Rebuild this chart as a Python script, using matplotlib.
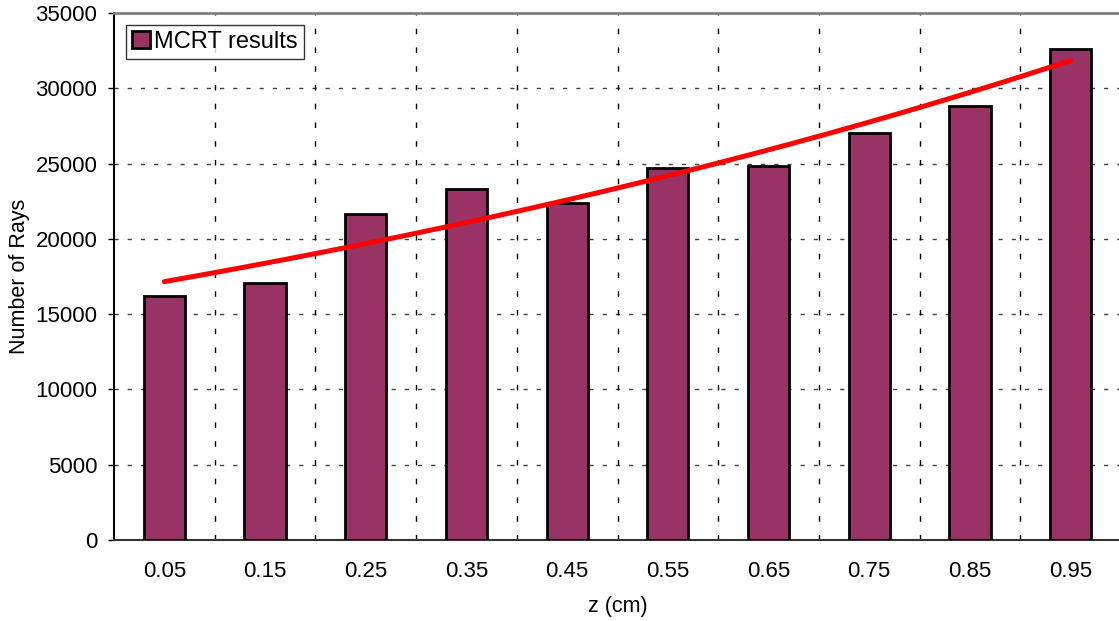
import numpy as np
import matplotlib
matplotlib.use("Agg")
import matplotlib.pyplot as plt

plt.rcParams['font.family'] = ['Liberation Sans', 'DejaVu Sans']

# Ray counts per depth slice
z_labels = ["0.05", "0.15", "0.25", "0.35", "0.45", "0.55", "0.65", "0.75", "0.85", "0.95"]
z_values = [0.05, 0.15, 0.25, 0.35, 0.45, 0.55, 0.65, 0.75, 0.85, 0.95]
ray_counts = [16200, 17100, 21650, 23300, 22400, 24700, 24850, 27000, 28800, 32600]

W, H = 1119, 621
fig = plt.figure(figsize=(W / 100, H / 100), dpi=100)
ax = fig.add_axes([114 / W, 1 - 540 / H, 1007 / W, 527 / H])

x = np.arange(len(z_labels))
ax.bar(x, ray_counts, width=0.41, color="#993366", edgecolor="black",
       linewidth=2, label="MCRT results", zorder=3)

# Exponential trend line fitted to the ray counts
k, logc = np.polyfit(z_values, np.log(ray_counts), 1)
zz = np.linspace(z_values[0], z_values[-1], 200)
xx = np.interp(zz, z_values, x)
ax.plot(xx, np.exp(logc + k * zz), color="#ff0000", linewidth=3.6,
        solid_capstyle="round", zorder=4, label="_nolegend_")

ax.set_xlim(-0.5, len(z_labels) - 0.5)
ax.set_ylim(0, 35000)
ax.set_yticks(np.arange(0, 35001, 5000))
ax.set_xticks(x)
ax.set_xticklabels(z_labels)

# Dashed grid: horizontal at y ticks, vertical between categories
for yv in np.arange(5000, 35000, 5000):
    ax.axhline(yv, color="#404040", linewidth=1.0, linestyle=(0, (3, 6.5)), zorder=1)
for xv in np.arange(0.5, len(z_labels) - 0.5, 1.0):
    ax.axvline(xv, color="black", linewidth=1.0, linestyle=(0, (4, 9.5)), zorder=1)

ax.tick_params(axis="x", length=0, pad=15, labelsize=16)
ax.tick_params(axis="y", length=4, width=1, direction="out", pad=8, labelsize=16)

ax.spines["top"].set_color("#808080")
ax.spines["top"].set_linewidth(2)
ax.spines["right"].set_visible(False)
ax.spines["left"].set_color("black")
ax.spines["left"].set_linewidth(1.5)
ax.spines["bottom"].set_color("#333333")
ax.spines["bottom"].set_linewidth(1.5)

ax.set_xlabel("z (cm)", fontsize=15.5, labelpad=10)
ax.set_ylabel("Number of Rays", fontsize=15.5, labelpad=4)

leg = ax.legend(loc="upper left", bbox_to_anchor=(126 / W, 1 - 25 / H),
                bbox_transform=fig.transFigure, fontsize=17, frameon=True,
                fancybox=False, handlelength=0.75, handleheight=0.75,
                handletextpad=0.2, borderpad=0.25, borderaxespad=0)
leg.get_frame().set_edgecolor("black")
leg.get_frame().set_linewidth(1.0)

fig.savefig("out.png", dpi=100)
